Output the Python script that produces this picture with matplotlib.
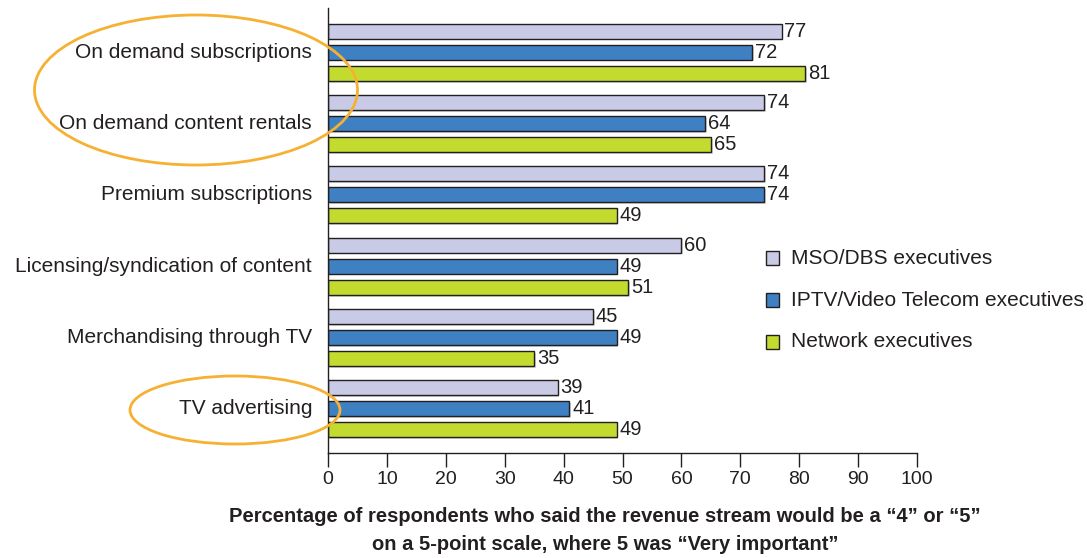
import matplotlib
matplotlib.use('Agg')
import matplotlib.pyplot as plt
from matplotlib.patches import Ellipse, Rectangle
import numpy as np

# --- data ---
categories = ["On demand subscriptions", "On demand content rentals", "Premium subscriptions",
              "Licensing/syndication of content", "Merchandising through TV", "TV advertising"]
mso = [77, 74, 74, 60, 45, 39]
iptv = [72, 64, 74, 49, 49, 41]
network = [81, 65, 49, 51, 35, 49]
series_names = ["MSO/DBS executives", "IPTV/Video Telecom executives", "Network executives"]

# --- style ---
COL_MSO = '#C9CBE6'
COL_IPTV = '#3F80C3'
COL_NET = '#C3DA2E'
COL_RING = '#F6B133'
TXT = '#231F20'

plt.rcParams['font.family'] = ['Liberation Sans', 'DejaVu Sans']

W, H = 1087, 558
fig = plt.figure(figsize=(W / 100, H / 100), dpi=100)
ax = fig.add_axes([328 / W, 1 - 453 / H, 589 / W, 445 / H])

y = np.arange(len(categories))
pitch = 0.296
height = 0.21
cols = [COL_MSO, COL_IPTV, COL_NET]
for i, vals in enumerate([mso, iptv, network]):
    pos = y + (i - 1) * pitch
    # soft shadow
    ax.barh(pos + 0.025, vals, height=height, left=0.3, color='#D6D6D6', edgecolor='none', zorder=1)
    ax.barh(pos, vals, height=height, color=cols[i], edgecolor=TXT, linewidth=1.0, zorder=2)
    for p, v in zip(pos, vals):
        ax.text(v + 0.5, p, str(v), ha='left', va='center', fontsize=14.5, color=TXT)

ax.set_xlim(0, 100)
ax.set_ylim(len(categories) - 1 + 0.62, -0.62)
ax.set_xticks(np.arange(0, 101, 10))
ax.tick_params(axis='x', length=10, width=1, labelsize=14, colors=TXT, pad=3)
ax.set_yticks([])
for s in ['top', 'right']:
    ax.spines[s].set_visible(False)
for s in ['left', 'bottom']:
    ax.spines[s].set_linewidth(1)
    ax.spines[s].set_color(TXT)

for yy, c in zip(y, categories):
    ax.text(-2.7, yy, c, ha='right', va='center', fontsize=15, color=TXT, clip_on=False)

# legend (placed by hand)
leg_y = [258, 300, 341.5]
for c, name, ly in zip(cols, series_names, leg_y):
    fig.add_artist(Rectangle((766 / W, 1 - (ly + 7) / H), 13 / W, 14 / H, transform=fig.transFigure,
                             facecolor=c, edgecolor=TXT, linewidth=1))
    fig.text(791 / W, 1 - ly / H, name, ha='left', va='center', fontsize=15, color=TXT)

fig.text(605 / W, 1 - 516 / H, "Percentage of respondents who said the revenue stream would be a \u201c4\u201d or \u201c5\u201d",
         ha='center', va='center', fontsize=14.5, fontweight='bold', color=TXT)
fig.text(605 / W, 1 - 544 / H, "on a 5-point scale, where 5 was \u201cVery important\u201d",
         ha='center', va='center', fontsize=14.5, fontweight='bold', color=TXT)

# highlight rings
fig.add_artist(Ellipse((196 / W, 1 - 90 / H), 323 / W, 150 / H, transform=fig.transFigure,
                       fill=False, edgecolor=COL_RING, linewidth=2))
fig.add_artist(Ellipse((235 / W, 1 - 410 / H), 210 / W, 68 / H, transform=fig.transFigure,
                       fill=False, edgecolor=COL_RING, linewidth=2))

fig.savefig('out.png', dpi=100)
